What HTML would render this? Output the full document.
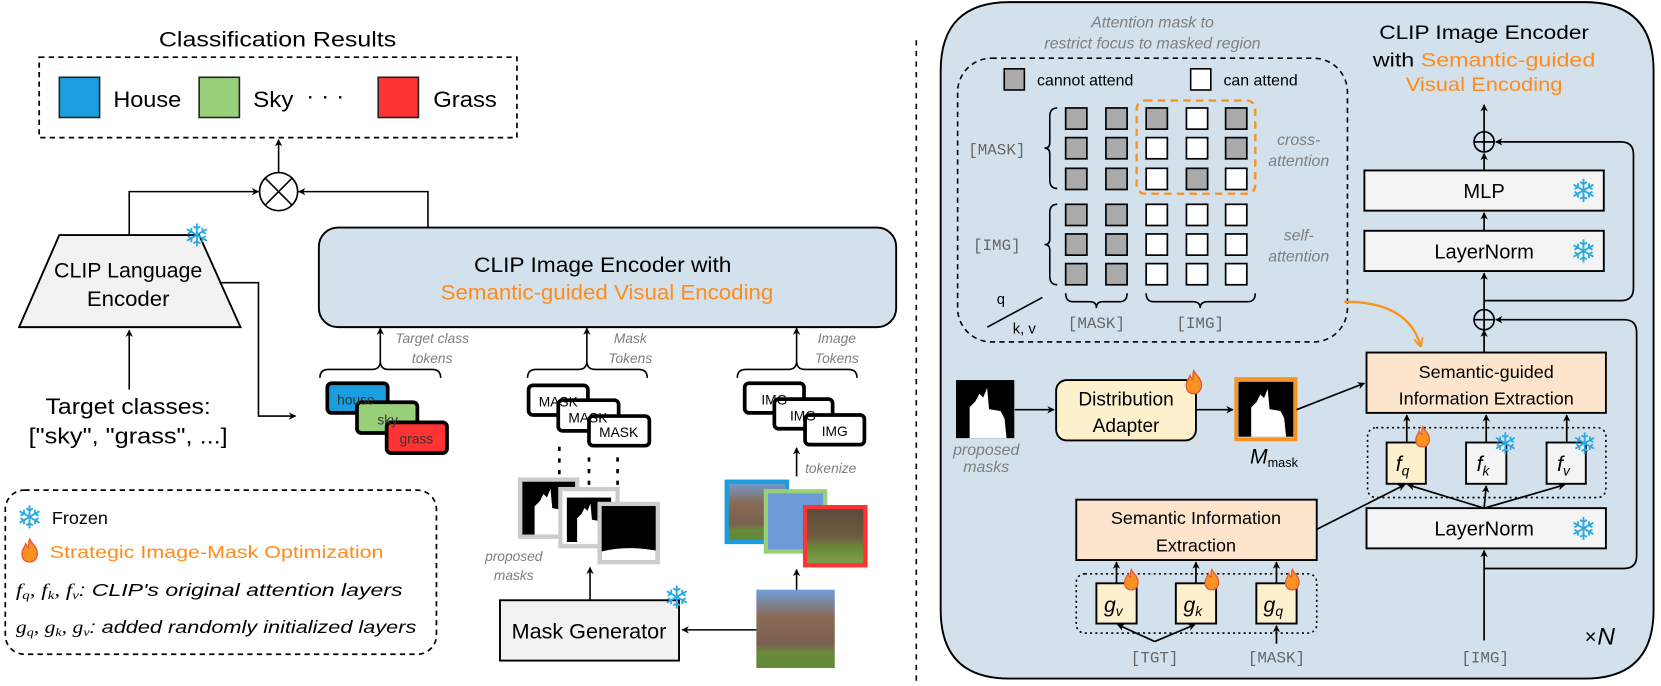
<!DOCTYPE html>
<html><head><meta charset="utf-8"><style>
html,body{margin:0;padding:0;background:#fff;}
svg{display:block;}
text{font-family:"Liberation Sans",sans-serif;}
.g{fill:#7f7f7f;font-style:italic;}
.mono{font-family:"Liberation Mono",monospace;fill:#666;}
.sf{fill:#29abe2;font-family:"DejaVu Sans",sans-serif;}
</style></head><body>
<svg width="1661" height="686" viewBox="0 0 1568 648" preserveAspectRatio="none" xmlns="http://www.w3.org/2000/svg">
<defs>
<marker id="a" viewBox="0 0 10 10" refX="9" refY="5" markerWidth="7" markerHeight="7" orient="auto-start-reverse" markerUnits="userSpaceOnUse"><path d="M0,0 L10,5 L0,10 L3,5 z" fill="#000"/></marker>
<marker id="ao" viewBox="0 0 10 10" refX="9" refY="5" markerWidth="9" markerHeight="9" orient="auto" markerUnits="userSpaceOnUse"><path d="M0,0 L10,5 L0,10" fill="none" stroke="#f7931e" stroke-width="2"/></marker>
<symbol id="fire" viewBox="0 0 20 26"><path d="M10 1 C12 6 18 9 18 16 C18 22 14 25 10 25 C5 25 2 22 2 16 C2 12 5 9 6 6 C7 9 8 10 9 10 C9 6 9 3 10 1Z" fill="#f7931e" stroke="#e8583a" stroke-width="1.5"/></symbol>
<symbol id="mask" viewBox="0 0 60 60"><rect width="60" height="60" fill="#000"/><path d="M14 60 L14 28 L20 22 L24 14 L28 18 L32 8 L34 30 L46 32 L50 40 L52 60 Z" fill="#fff"/></symbol>
<linearGradient id="ph" x1="0" y1="0" x2="0" y2="1"><stop offset="0" stop-color="#6f9fd8"/><stop offset="0.35" stop-color="#8a6a55"/><stop offset="0.7" stop-color="#7a6050"/><stop offset="0.8" stop-color="#6a8a3a"/><stop offset="1" stop-color="#5f8a3a"/></linearGradient>
<linearGradient id="ph2" x1="0" y1="0" x2="0" y2="1"><stop offset="0" stop-color="#5b4a3a"/><stop offset="0.5" stop-color="#6d5a40"/><stop offset="0.7" stop-color="#6b8a3a"/><stop offset="1" stop-color="#83a04a"/></linearGradient>
</defs>

<!-- LEFT -->
<text x="262" y="44" font-size="20" text-anchor="middle" textLength="224" lengthAdjust="spacingAndGlyphs">Classification Results</text>
<rect x="37" y="54" width="451" height="76" fill="none" stroke="#000" stroke-width="1.6" stroke-dasharray="5,4"/>
<rect x="56" y="73" width="38" height="38" fill="#1b9ee0" stroke="#222" stroke-width="1.5"/>
<text x="107" y="101" font-size="21" textLength="64" lengthAdjust="spacingAndGlyphs">House</text>
<rect x="188" y="73" width="38" height="38" fill="#98d07a" stroke="#222" stroke-width="1.5"/>
<text x="239" y="101" font-size="21" textLength="38" lengthAdjust="spacingAndGlyphs">Sky</text>
<text x="289" y="98" font-size="21" textLength="36" lengthAdjust="spacingAndGlyphs">· · ·</text>
<rect x="357" y="73" width="38" height="38" fill="#ff3333" stroke="#222" stroke-width="1.5"/>
<text x="409" y="101" font-size="21" textLength="60" lengthAdjust="spacingAndGlyphs">Grass</text>

<circle cx="263" cy="181" r="18" fill="#fff" stroke="#000" stroke-width="1.6"/>
<path d="M250 168 L276 194 M276 168 L250 194" stroke="#000" stroke-width="1.5"/>
<line x1="263" y1="163" x2="263" y2="132" stroke="#000" stroke-width="1.5" marker-end="url(#a)"/>
<path d="M122 222 L122 181 L244 181" fill="none" stroke="#000" stroke-width="1.5" marker-end="url(#a)"/>
<path d="M404 215 L404 181 L282 181" fill="none" stroke="#000" stroke-width="1.5" marker-end="url(#a)"/>

<path d="M56 222 L188 222 L227 309 L18 309 Z" fill="#f2f2f2" stroke="#000" stroke-width="1.8"/>
<text x="186" y="233" font-size="30" class="sf" text-anchor="middle">❄</text>
<text x="121" y="262" font-size="20" text-anchor="middle" textLength="140" lengthAdjust="spacingAndGlyphs">CLIP Language</text>
<text x="121" y="289" font-size="20" text-anchor="middle" textLength="78" lengthAdjust="spacingAndGlyphs">Encoder</text>
<path d="M207 267 L244 267 L244 393 L279 393" fill="none" stroke="#000" stroke-width="1.5" marker-end="url(#a)"/>
<line x1="122" y1="368" x2="122" y2="312" stroke="#000" stroke-width="1.5" marker-end="url(#a)"/>
<text x="121" y="391" font-size="21" text-anchor="middle" textLength="156" lengthAdjust="spacingAndGlyphs">Target classes:</text>
<text x="121" y="419" font-size="21" text-anchor="middle" textLength="188" lengthAdjust="spacingAndGlyphs">["sky", "grass", ...]</text>

<rect x="301" y="215" width="545" height="94" rx="18" fill="#d2e1ec" stroke="#000" stroke-width="1.8"/>
<text x="569" y="257" font-size="20" text-anchor="middle" textLength="243" lengthAdjust="spacingAndGlyphs">CLIP Image Encoder with</text>
<text x="573" y="283" font-size="20" text-anchor="middle" fill="#ff8c1a" textLength="314" lengthAdjust="spacingAndGlyphs">Semantic-guided Visual Encoding</text>

<g fill="none" stroke="#000" stroke-width="1.5">
<path d="M302 357 Q302 349 310 349 L351 349 Q359 349 359 341 Q359 349 367 349 L408 349 Q416 349 416 357"/>
<path d="M498 357 Q498 349 506 349 L546 349 Q554 349 554 341 Q554 349 562 349 L603 349 Q611 349 611 357"/>
<path d="M696 357 Q696 349 704 349 L744 349 Q752 349 752 341 Q752 349 760 349 L801 349 Q809 349 809 357"/>
</g>
<g stroke="#000" stroke-width="1.5">
<line x1="359" y1="341" x2="359" y2="310" marker-end="url(#a)"/>
<line x1="554" y1="341" x2="554" y2="310" marker-end="url(#a)"/>
<line x1="752" y1="341" x2="752" y2="310" marker-end="url(#a)"/>
</g>
<text class="g" font-size="13" x="408" y="324" text-anchor="middle">Target class</text>
<text class="g" font-size="13" x="408" y="343" text-anchor="middle">tokens</text>
<text class="g" font-size="13" x="595" y="324" text-anchor="middle">Mask</text>
<text class="g" font-size="13" x="595" y="343" text-anchor="middle">Tokens</text>
<text class="g" font-size="13" x="790" y="324" text-anchor="middle">Image</text>
<text class="g" font-size="13" x="790" y="343" text-anchor="middle">Tokens</text>

<g stroke="#000" stroke-width="3.5">
<rect x="309" y="362" width="57" height="28" rx="4" fill="#1b9ee0"/>
<rect x="337" y="380" width="57" height="29" rx="4" fill="#98d07a"/>
<rect x="365" y="399" width="57" height="29" rx="4" fill="#ff3333"/>
</g>
<text x="336" y="382" font-size="13" fill="#333" text-anchor="middle">house</text>
<text x="366" y="401" font-size="13" fill="#333" text-anchor="middle">sky</text>
<text x="393" y="419" font-size="13" fill="#333" text-anchor="middle">grass</text>

<g stroke="#000" stroke-width="3.5" fill="#fff">
<rect x="499" y="364" width="56" height="28" rx="4"/>
<rect x="527" y="378" width="57" height="29" rx="4"/>
<rect x="556" y="393" width="57" height="28" rx="4"/>
</g>
<text x="527" y="384" font-size="13" text-anchor="middle">MASK</text>
<text x="555" y="399" font-size="13" text-anchor="middle">MASK</text>
<text x="584" y="413" font-size="13" text-anchor="middle">MASK</text>
<g stroke="#000" stroke-width="3.5" fill="#fff">
<rect x="703" y="362" width="56" height="28" rx="4"/>
<rect x="731" y="377" width="55" height="28" rx="4"/>
<rect x="760" y="392" width="56" height="28" rx="4"/>
</g>
<text x="731" y="382" font-size="13" text-anchor="middle">IMG</text>
<text x="758" y="397" font-size="13" text-anchor="middle">IMG</text>
<text x="788" y="412" font-size="13" text-anchor="middle">IMG</text>

<g stroke="#000" stroke-width="2.5" stroke-dasharray="4,7">
<line x1="528" y1="422" x2="528" y2="448"/><line x1="556" y1="432" x2="556" y2="458"/><line x1="583" y1="432" x2="583" y2="460"/>
</g>
<rect x="489" y="451" width="58" height="58" fill="#ccc"/><use href="#mask" x="493" y="455" width="50" height="50"/>
<rect x="527" y="460" width="58" height="58" fill="#ccc"/><rect x="531" y="464" width="50" height="50" fill="#fff"/><use href="#mask" x="535" y="468" width="42" height="46"/>
<rect x="564" y="474" width="59" height="59" fill="#ccc"/><rect x="568" y="478" width="51" height="51" fill="#000"/><path d="M568 521 Q590 515 619 520 L619 529 L568 529Z" fill="#fff"/>
<text class="g" font-size="13" x="485" y="530" text-anchor="middle">proposed</text>
<text class="g" font-size="13" x="485" y="548" text-anchor="middle">masks</text>
<line x1="557" y1="567" x2="557" y2="536" stroke="#000" stroke-width="1.5" marker-end="url(#a)"/>
<rect x="472" y="567" width="169" height="57" fill="#f2f2f2" stroke="#000" stroke-width="1.8"/>
<text x="556" y="603" font-size="20" text-anchor="middle" textLength="146" lengthAdjust="spacingAndGlyphs">Mask Generator</text>
<text x="639" y="575" font-size="30" class="sf" text-anchor="middle">❄</text>
<rect x="714" y="557" width="74" height="74" fill="url(#ph)"/>
<line x1="714" y1="595" x2="644" y2="595" stroke="#000" stroke-width="1.5" marker-end="url(#a)"/>
<line x1="752" y1="557" x2="752" y2="538" stroke="#000" stroke-width="1.5" marker-end="url(#a)"/>
<rect x="686" y="455" width="57" height="57" fill="url(#ph)" stroke="#1b9ee0" stroke-width="4"/>
<rect x="723" y="464" width="56" height="57" fill="#6c9bd8" stroke="#98d07a" stroke-width="4"/>
<rect x="760" y="479" width="57" height="55" fill="url(#ph2)" stroke="#ff3333" stroke-width="4"/>
<line x1="752" y1="450" x2="752" y2="423" stroke="#000" stroke-width="1.5" marker-end="url(#a)"/>
<text class="g" font-size="13" x="760" y="447">tokenize</text>

<rect x="5" y="463" width="407" height="155" rx="18" fill="none" stroke="#000" stroke-width="1.6" stroke-dasharray="5,4"/>
<text x="28" y="499" font-size="30" class="sf" text-anchor="middle">❄</text>
<text x="49" y="495" font-size="17">Frozen</text>
<use href="#fire" x="19" y="508" width="18" height="24"/>
<text x="47" y="527" font-size="17" fill="#ff8c1a" textLength="315" lengthAdjust="spacingAndGlyphs">Strategic Image-Mask Optimization</text>
<text x="15" y="563" font-size="17" font-style="italic" textLength="365" lengthAdjust="spacingAndGlyphs"><tspan font-family="Liberation Serif">f<tspan font-size="11" dy="3">q</tspan><tspan dy="-3">, f</tspan><tspan font-size="11" dy="3">k</tspan><tspan dy="-3">, f</tspan><tspan font-size="11" dy="3">v</tspan></tspan><tspan dy="-3">: CLIP's original attention layers</tspan></text>
<text x="15" y="598" font-size="17" font-style="italic" textLength="378" lengthAdjust="spacingAndGlyphs"><tspan font-family="Liberation Serif">g<tspan font-size="11" dy="3">q</tspan><tspan dy="-3">, g</tspan><tspan font-size="11" dy="3">k</tspan><tspan dy="-3">, g</tspan><tspan font-size="11" dy="3">v</tspan></tspan><tspan dy="-3">: added randomly initialized layers</tspan></text>

<line x1="865" y1="38" x2="865" y2="648" stroke="#000" stroke-width="1.5" stroke-dasharray="5,5"/>

<!-- RIGHT -->
<path d="M953 2 L1496 2 Q1561 2 1561 67 L1561 576 Q1561 641 1496 641 L953 641 Q888 641 888 576 L888 67 Q888 2 953 2 Z" fill="#d2e1ec" stroke="#000" stroke-width="1.8"/>
<text class="g" font-size="15" x="1088" y="26" text-anchor="middle">Attention mask to</text>
<text class="g" font-size="15" x="1088" y="46" text-anchor="middle">restrict focus to masked region</text>
<rect x="904" y="55" width="368" height="268" rx="32" fill="none" stroke="#000" stroke-width="1.5" stroke-dasharray="5,4"/>
<rect x="948" y="65" width="19" height="20" fill="#aaa" stroke="#000" stroke-width="1.5"/>
<text x="979" y="81" font-size="15">cannot attend</text>
<rect x="1124" y="65" width="19" height="20" fill="#fff" stroke="#000" stroke-width="1.5"/>
<text x="1155" y="81" font-size="15">can attend</text>
<g stroke="#000" stroke-width="1.6">
<rect x="1006" y="102" width="20" height="20" fill="#aaa"/><rect x="1044" y="102" width="20" height="20" fill="#aaa"/><rect x="1082" y="102" width="20" height="20" fill="#aaa"/><rect x="1120" y="102" width="20" height="20" fill="#fff"/><rect x="1157" y="102" width="20" height="20" fill="#aaa"/>
<rect x="1006" y="130" width="20" height="20" fill="#aaa"/><rect x="1044" y="130" width="20" height="20" fill="#aaa"/><rect x="1082" y="130" width="20" height="20" fill="#fff"/><rect x="1120" y="130" width="20" height="20" fill="#fff"/><rect x="1157" y="130" width="20" height="20" fill="#aaa"/>
<rect x="1006" y="159" width="20" height="20" fill="#aaa"/><rect x="1044" y="159" width="20" height="20" fill="#aaa"/><rect x="1082" y="159" width="20" height="20" fill="#fff"/><rect x="1120" y="159" width="20" height="20" fill="#aaa"/><rect x="1157" y="159" width="20" height="20" fill="#fff"/>
<rect x="1006" y="193" width="20" height="20" fill="#aaa"/><rect x="1044" y="193" width="20" height="20" fill="#aaa"/><rect x="1082" y="193" width="20" height="20" fill="#fff"/><rect x="1120" y="193" width="20" height="20" fill="#fff"/><rect x="1157" y="193" width="20" height="20" fill="#fff"/>
<rect x="1006" y="221" width="20" height="20" fill="#aaa"/><rect x="1044" y="221" width="20" height="20" fill="#aaa"/><rect x="1082" y="221" width="20" height="20" fill="#fff"/><rect x="1120" y="221" width="20" height="20" fill="#fff"/><rect x="1157" y="221" width="20" height="20" fill="#fff"/>
<rect x="1006" y="249" width="20" height="20" fill="#aaa"/><rect x="1044" y="249" width="20" height="20" fill="#aaa"/><rect x="1082" y="249" width="20" height="20" fill="#fff"/><rect x="1120" y="249" width="20" height="20" fill="#fff"/><rect x="1157" y="249" width="20" height="20" fill="#fff"/>
</g>
<rect x="1073" y="95" width="112" height="88" rx="8" fill="none" stroke="#f7931e" stroke-width="2.2" stroke-dasharray="7,5"/>
<g fill="none" stroke="#000" stroke-width="1.5">
<path d="M998 102 Q991 102 991 110 L991 135 Q991 140 986 140 Q991 140 991 145 L991 170 Q991 178 998 178"/>
<path d="M998 193 Q991 193 991 201 L991 226 Q991 231 986 231 Q991 231 991 236 L991 261 Q991 269 998 269"/>
<path d="M1006 277 Q1006 285 1013 285 L1029 285 Q1035 285 1035 291 Q1035 285 1041 285 L1057 285 Q1064 285 1064 277"/>
<path d="M1082 277 Q1082 285 1089 285 L1126 285 Q1133 285 1133 291 Q1133 285 1140 285 L1178 285 Q1185 285 1185 277"/>
<line x1="932" y1="309" x2="984" y2="281"/>
</g>
<text class="mono" font-size="15" x="941" y="146" text-anchor="middle">[MASK]</text>
<text class="mono" font-size="15" x="941" y="236" text-anchor="middle">[IMG]</text>
<text class="mono" font-size="15" x="1035" y="310" text-anchor="middle">[MASK]</text>
<text class="mono" font-size="15" x="1133" y="310" text-anchor="middle">[IMG]</text>
<text x="941" y="287" font-size="14">q</text>
<text x="956" y="315" font-size="14">k, v</text>
<text class="g" font-size="15" x="1226" y="137" text-anchor="middle">cross-</text>
<text class="g" font-size="15" x="1226" y="157" text-anchor="middle">attention</text>
<text class="g" font-size="15" x="1226" y="227" text-anchor="middle">self-</text>
<text class="g" font-size="15" x="1226" y="247" text-anchor="middle">attention</text>

<text x="1401" y="37" font-size="18" text-anchor="middle" textLength="198" lengthAdjust="spacingAndGlyphs">CLIP Image Encoder</text>
<text x="1401" y="63" font-size="18" text-anchor="middle" textLength="210" lengthAdjust="spacingAndGlyphs">with <tspan fill="#ff8c1a">Semantic-guided</tspan></text>
<text x="1401" y="86" font-size="18" text-anchor="middle" fill="#ff8c1a" textLength="148" lengthAdjust="spacingAndGlyphs">Visual Encoding</text>

<g stroke="#000" stroke-width="1.6" fill="none">
<line x1="1401" y1="124" x2="1401" y2="99" marker-end="url(#a)"/>
<line x1="1401" y1="161" x2="1401" y2="145" marker-end="url(#a)"/>
<line x1="1401" y1="218" x2="1401" y2="201" marker-end="url(#a)"/>
<line x1="1401" y1="292" x2="1401" y2="258" marker-end="url(#a)"/>
<line x1="1401" y1="333" x2="1401" y2="312" marker-end="url(#a)"/>
<path d="M1401 284 L1530 284 Q1542 284 1542 272 L1542 146 Q1542 134 1530 134 L1412 134" marker-end="url(#a)"/>
<path d="M1401 537 L1533 537 Q1545 537 1545 525 L1545 314 Q1545 302 1533 302 L1412 302" marker-end="url(#a)"/>
<circle cx="1401" cy="134" r="9.5"/><path d="M1391.5 134 H1410.5 M1401 124.5 V143.5"/>
<circle cx="1401" cy="302" r="9.5"/><path d="M1391.5 302 H1410.5 M1401 292.5 V311.5"/>
</g>
<rect x="1288" y="161" width="226" height="38" fill="#f4f4f4" stroke="#000" stroke-width="1.8"/>
<text x="1401" y="187" font-size="19" text-anchor="middle">MLP</text>
<text x="1495" y="191" font-size="30" class="sf" text-anchor="middle">❄</text>
<rect x="1288" y="218" width="226" height="38" fill="#f4f4f4" stroke="#000" stroke-width="1.8"/>
<text x="1401" y="244" font-size="19" text-anchor="middle">LayerNorm</text>
<text x="1495" y="248" font-size="30" class="sf" text-anchor="middle">❄</text>

<path d="M1269 285 Q1330 285 1341 327" fill="none" stroke="#f7931e" stroke-width="2.2" marker-end="url(#ao)"/>

<rect x="1290" y="333" width="226" height="57" fill="#fde4cc" stroke="#000" stroke-width="1.8"/>
<text x="1403" y="357" font-size="17" text-anchor="middle">Semantic-guided</text>
<text x="1403" y="382" font-size="17" text-anchor="middle">Information Extraction</text>
<rect x="1291" y="404" width="225" height="66" rx="8" fill="none" stroke="#000" stroke-width="1.5" stroke-dasharray="2,3"/>
<g stroke="#000" stroke-width="1.6">
<line x1="1328" y1="418" x2="1328" y2="392" marker-end="url(#a)"/>
<line x1="1403" y1="418" x2="1403" y2="392" marker-end="url(#a)"/>
<line x1="1479" y1="418" x2="1479" y2="392" marker-end="url(#a)"/>
<line x1="1401" y1="480" x2="1329" y2="458" marker-end="url(#a)"/>
<line x1="1401" y1="480" x2="1403" y2="459" marker-end="url(#a)"/>
<line x1="1401" y1="480" x2="1477" y2="458" marker-end="url(#a)"/>
<line x1="1243" y1="500" x2="1326" y2="458" marker-end="url(#a)"/>
<line x1="1401" y1="605" x2="1401" y2="520" marker-end="url(#a)"/>
</g>
<rect x="1309" y="418" width="37" height="39" fill="#fdf0cc" stroke="#000" stroke-width="1.8"/>
<rect x="1384" y="418" width="38" height="39" fill="#f4f4f4" stroke="#000" stroke-width="1.8"/>
<rect x="1460" y="418" width="37" height="39" fill="#f4f4f4" stroke="#000" stroke-width="1.8"/>
<text x="1324" y="445" font-size="20" font-family="Liberation Serif" font-style="italic" text-anchor="middle">f<tspan font-size="13" dy="4">q</tspan></text>
<text x="1400" y="445" font-size="20" font-family="Liberation Serif" font-style="italic" text-anchor="middle">f<tspan font-size="13" dy="4">k</tspan></text>
<text x="1476" y="445" font-size="20" font-family="Liberation Serif" font-style="italic" text-anchor="middle">f<tspan font-size="13" dy="4">v</tspan></text>
<use href="#fire" x="1335" y="401" width="16" height="23"/>
<text x="1421" y="429" font-size="28" class="sf" text-anchor="middle">❄</text>
<text x="1496" y="429" font-size="28" class="sf" text-anchor="middle">❄</text>
<rect x="1290" y="480" width="226" height="38" fill="#f4f4f4" stroke="#000" stroke-width="1.8"/>
<text x="1401" y="506" font-size="19" text-anchor="middle">LayerNorm</text>
<text x="1495" y="510" font-size="30" class="sf" text-anchor="middle">❄</text>
<text class="mono" font-size="15" x="1402" y="626" text-anchor="middle">[IMG]</text>
<text x="1496" y="608" font-size="19">×</text>
<text x="1508" y="609" font-size="23" font-family="Liberation Serif" font-style="italic">N</text>

<use href="#mask" x="902" y="359" width="56" height="55"/>
<text class="g" font-size="15" x="931" y="430" text-anchor="middle">proposed</text>
<text class="g" font-size="15" x="931" y="446" text-anchor="middle">masks</text>
<line x1="958" y1="387" x2="995" y2="387" stroke="#000" stroke-width="1.6" marker-end="url(#a)"/>
<rect x="997" y="359" width="132" height="57" rx="10" fill="#fdf0cc" stroke="#000" stroke-width="1.8"/>
<text x="1063" y="383" font-size="18" text-anchor="middle">Distribution</text>
<text x="1063" y="408" font-size="18" text-anchor="middle">Adapter</text>
<use href="#fire" x="1118" y="348" width="18" height="26"/>
<line x1="1129" y1="387" x2="1164" y2="387" stroke="#000" stroke-width="1.6" marker-end="url(#a)"/>
<rect x="1167" y="358" width="56" height="57" fill="none" stroke="#f7931e" stroke-width="3.5"/>
<use href="#mask" x="1169" y="360" width="52" height="53"/>
<text x="1180" y="438" font-size="20" font-family="Liberation Serif" font-style="italic">M<tspan font-size="12" font-style="normal" dy="3">mask</tspan></text>
<line x1="1224" y1="387" x2="1288" y2="362" stroke="#000" stroke-width="1.6" marker-end="url(#a)"/>

<rect x="1016" y="472" width="227" height="57" fill="#fde4cc" stroke="#000" stroke-width="1.8"/>
<text x="1129" y="495" font-size="17" text-anchor="middle">Semantic Information</text>
<text x="1129" y="521" font-size="17" text-anchor="middle">Extraction</text>
<rect x="1016" y="542" width="227" height="56" rx="8" fill="none" stroke="#000" stroke-width="1.5" stroke-dasharray="2,3"/>
<g stroke="#000" stroke-width="1.6">
<line x1="1054" y1="551" x2="1054" y2="531" marker-end="url(#a)"/>
<line x1="1129" y1="551" x2="1129" y2="531" marker-end="url(#a)"/>
<line x1="1205" y1="551" x2="1205" y2="531" marker-end="url(#a)"/>
<line x1="1090" y1="606" x2="1055" y2="590" marker-end="url(#a)"/>
<line x1="1090" y1="606" x2="1128" y2="590" marker-end="url(#a)"/>
<line x1="1205" y1="608" x2="1205" y2="591" marker-end="url(#a)"/>
</g>
<rect x="1035" y="551" width="38" height="38" fill="#fdf0cc" stroke="#000" stroke-width="1.8"/>
<rect x="1110" y="551" width="38" height="38" fill="#fdf0cc" stroke="#000" stroke-width="1.8"/>
<rect x="1186" y="551" width="38" height="38" fill="#fdf0cc" stroke="#000" stroke-width="1.8"/>
<text x="1051" y="578" font-size="20" font-family="Liberation Serif" font-style="italic" text-anchor="middle">g<tspan font-size="13" dy="4">v</tspan></text>
<text x="1126" y="578" font-size="20" font-family="Liberation Serif" font-style="italic" text-anchor="middle">g<tspan font-size="13" dy="4">k</tspan></text>
<text x="1202" y="578" font-size="20" font-family="Liberation Serif" font-style="italic" text-anchor="middle">g<tspan font-size="13" dy="4">q</tspan></text>
<use href="#fire" x="1060" y="536" width="16" height="23"/>
<use href="#fire" x="1136" y="536" width="16" height="23"/>
<use href="#fire" x="1212" y="536" width="16" height="23"/>
<text class="mono" font-size="15" x="1090" y="626" text-anchor="middle">[TGT]</text>
<text class="mono" font-size="15" x="1205" y="626" text-anchor="middle">[MASK]</text>
</svg>
</body></html>
